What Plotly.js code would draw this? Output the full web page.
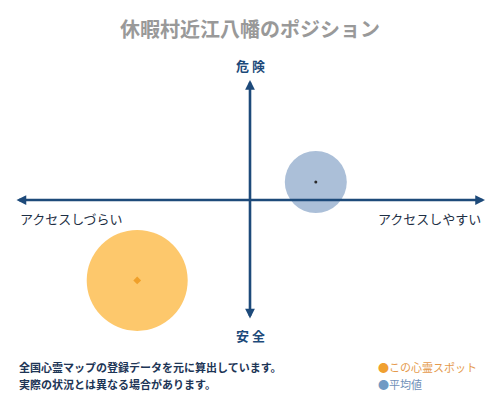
<!DOCTYPE html>
<html>
<head>
<meta charset="utf-8">
<script src="https://cdn.plot.ly/plotly-3.0.1.min.js"></script>
<style>
  html, body { margin: 0; padding: 0; background: #ffffff; }
  #chart { width: 500px; height: 400px; }
</style>
</head>
<body>
<div id="chart"></div>
<script>
  // positions on the two axes: access (left = hard, right = easy), danger (down = safe, up = dangerous)
  const pointNames = ["この心霊スポット", "平均値"];
  const accessValues = [-0.48, 0.28];
  const dangerValues = [-0.67, 0.15];

  const axisLabels = {
    top: "危 険",
    bottom: "安 全",
    left: "アクセスしづらい",
    right: "アクセスしやすい",
  };
  const noteLines = [
    "全国心霊マップの登録データを元に算出しています。",
    "実際の状況とは異なる場合があります。",
  ];

  const navy = "#1d4a7a";
  const font = "'Noto Sans CJK JP', 'Noto Sans', sans-serif";
  const haloColors = ["#fdc86c", "#abbfd8"];
  const haloSizes = [101, 62];
  const dotColors = ["#f0a02a", "#2a2a2a"];
  const dotSymbols = ["diamond", "circle"];
  const dotSizes = [6, 3];

  const traces = [
    {
      x: accessValues,
      y: dangerValues,
      mode: "markers",
      type: "scatter",
      hoverinfo: "skip",
      showlegend: false,
      cliponaxis: false,
      marker: { size: haloSizes, color: haloColors, opacity: 1, line: { width: 0 } },
    },
    {
      x: accessValues,
      y: dangerValues,
      mode: "markers",
      type: "scatter",
      text: pointNames,
      hoverinfo: "skip",
      showlegend: false,
      cliponaxis: false,
      marker: { size: dotSizes, color: dotColors, symbol: dotSymbols, opacity: 1, line: { width: 0 } },
    },
  ];

  // one double-headed arrow per axis
  function arrow(x, y, ax, ay) {
    return {
      x: x, y: y, ax: ax, ay: ay,
      xref: "x", yref: "y", axref: "x", ayref: "y",
      text: "",
      showarrow: true,
      arrowside: "end+start",
      arrowhead: 2,
      startarrowhead: 2,
      arrowsize: 0.75,
      startarrowsize: 0.75,
      arrowwidth: 2.6,
      arrowcolor: navy,
      standoff: 0,
      startstandoff: 0,
    };
  }

  const annotations = [
    arrow(1, 0, -1, 0),
    arrow(0, 1, 0, -1),
    {
      x: 0, y: 1, xref: "x", yref: "y", yanchor: "bottom", yshift: 3,
      text: "<b>" + axisLabels.top + "</b>", showarrow: false,
      font: { family: font, size: 13, color: navy },
    },
    {
      x: 0, y: -1, xref: "x", yref: "y", yanchor: "top", yshift: -4,
      text: "<b>" + axisLabels.bottom + "</b>", showarrow: false,
      font: { family: font, size: 13, color: navy },
    },
    {
      x: -1, y: 0, xref: "x", yref: "y", xanchor: "left", yanchor: "top", xshift: 3, yshift: -7,
      text: axisLabels.left, showarrow: false,
      font: { family: font, size: 13, color: "#1e2f45" },
    },
    {
      x: 1, y: 0, xref: "x", yref: "y", xanchor: "right", yanchor: "top", xshift: -2, yshift: -7,
      text: axisLabels.right, showarrow: false,
      font: { family: font, size: 13, color: "#1e2f45" },
    },
    {
      x: 17, y: 367, xref: "paper", yref: "paper",
      text: "<b>" + noteLines[0] + "</b>", showarrow: false,
      font: { family: font, size: 11, color: "#1d3556" },
    },
    {
      x: 17, y: 384, xref: "paper", yref: "paper",
      text: "<b>" + noteLines[1] + "</b>", showarrow: false,
      font: { family: font, size: 11, color: "#1d3556" },
    },
    {
      x: 376, y: 367, xref: "paper", yref: "paper",
      text: "<span style='color:#f0a030'>●</span>" + pointNames[0], showarrow: false,
      font: { family: font, size: 11, color: "#e59a4c" },
    },
    {
      x: 376, y: 384, xref: "paper", yref: "paper",
      text: "<span style='color:#6f9ac4'>●</span>" + pointNames[1], showarrow: false,
      font: { family: font, size: 11, color: "#6f8fb8" },
    },
  ];

  // footer items are placed in pixels; convert to paper coordinates
  const W = 500, H = 400;
  const margin = { l: 15, r: 15, t: 80, b: 80 };
  const pw = W - margin.l - margin.r, ph = H - margin.t - margin.b;
  annotations.forEach((a) => {
    if (a.xref === "paper") {
      const px = a.x, py = a.y;
      a.x = (px - margin.l) / pw;
      a.y = 1 - (py - margin.t) / ph;
      a.xanchor = "left";
      a.yanchor = "middle";
    }
  });

  const layout = {
    width: W,
    height: H,
    margin: margin,
    paper_bgcolor: "#ffffff",
    plot_bgcolor: "#ffffff",
    showlegend: false,
    title: {
      text: "<b>休暇村近江八幡のポジション</b>",
      x: 0.5,
      xanchor: "center",
      y: 1 - 30 / H,
      yanchor: "middle",
      font: { family: font, size: 20, color: "#999999" },
    },
    xaxis: { range: [-1, 1], visible: false, fixedrange: true },
    yaxis: { range: [-1, 1], visible: false, fixedrange: true },
    annotations: annotations,
  };

  Plotly.newPlot("chart", traces, layout, { displayModeBar: false, staticPlot: true });
</script>
</body>
</html>
